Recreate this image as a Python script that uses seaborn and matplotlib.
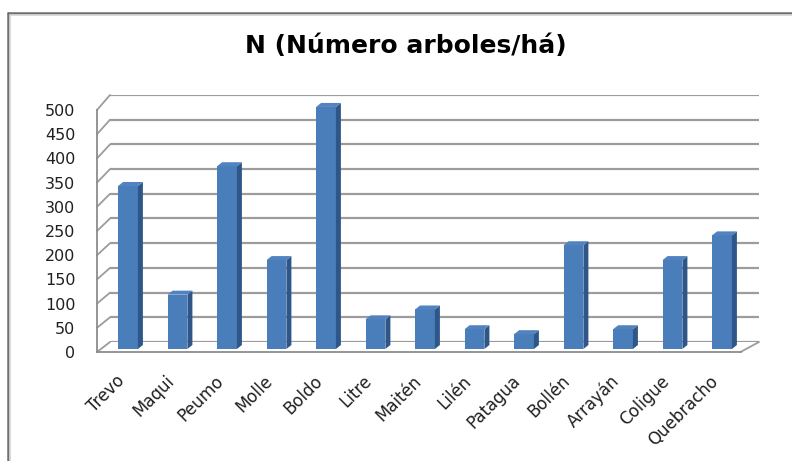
import matplotlib
matplotlib.use("Agg")
import matplotlib.pyplot as plt
from matplotlib.patches import Polygon, ConnectionPatch
from matplotlib.lines import Line2D
import seaborn as sns

# Data: trees per hectare by species
species = ["Trevo", "Maqui", "Peumo", "Molle", "Boldo", "Litre", "Maitén",
           "Lilén", "Patagua", "Bollén", "Arrayán", "Coligue", "Quebracho"]
trees_per_ha = [330, 110, 370, 180, 490, 60, 80, 40, 30, 210, 40, 180, 230]
y_ticks = list(range(0, 501, 50))

title = "N (Número arboles/há)"

FRONT = "#4A7EBB"
SIDE = "#2E5688"
TOP = "#5283C0"
GRID = "#9C9C9C"
AXIS = "#8C8C8C"
TEXT = "#202020"

sns.set_style("white")
plt.rcParams["font.family"] = ["DejaVu Sans"]

W, H = 792, 461
fig = plt.figure(figsize=(W / 100, H / 100), dpi=100)


def rect(left, right, bottom, top):
    """Axes rectangle from pixel edges (top/bottom measured from the top)."""
    return [left / W, (H - bottom) / H, (right - left) / W, (bottom - top) / H]


# Back wall (gridlines), bar plane, and front plane (axes / labels)
ax_back = fig.add_axes(rect(110, 759, 342, 95), zorder=0)
ax = fig.add_axes(rect(103.25, 746.75, 349, 102), zorder=1)
ax_front = fig.add_axes(rect(97, 740.5, 352, 110), zorder=2)

for a in (ax_back, ax, ax_front):
    a.set_xlim(-0.5, len(species) - 0.5)
    a.set_ylim(0, 500)
    a.patch.set_visible(False)

# Back wall gridlines
ax_back.axis("off")
for v in y_ticks:
    ax_back.axhline(v, color=GRID, lw=1.6, zorder=0)

# Bars (front faces)
sns.barplot(x=species, y=trees_per_ha, ax=ax, color=FRONT, width=0.4,
            saturation=1, edgecolor="none")
ax.set_xlim(-0.5, len(species) - 0.5)
ax.set_ylim(0, 500)
ax.axis("off")

# Depth faces for each bar (offset measured in pixels, converted to data units)
px_x = (len(species)) / 643.5
px_y = 500 / 247
ddx, ddy = 5 * px_x, 4 * px_y
for bar in list(ax.patches):
    x0 = bar.get_x()
    x1 = x0 + bar.get_width()
    h = bar.get_height()
    side = Polygon([(x1, 0), (x1 + ddx, ddy), (x1 + ddx, h + ddy), (x1, h)],
                   closed=True, facecolor=SIDE, edgecolor="none", clip_on=False)
    top = Polygon([(x0, h), (x0 + ddx, h + ddy), (x1 + ddx, h + ddy), (x1, h)],
                  closed=True, facecolor=TOP, edgecolor="none", clip_on=False)
    ax.add_patch(side)
    ax.add_patch(top)

# Front plane: value axis and category axis
for s in ("top", "right"):
    ax_front.spines[s].set_visible(False)
for s in ("left", "bottom"):
    ax_front.spines[s].set_color(AXIS)
    ax_front.spines[s].set_linewidth(1.3)

ax_front.set_yticks(y_ticks)
ax_front.set_yticklabels([str(v) for v in y_ticks])
ax_front.tick_params(axis="y", direction="out", length=3.6, width=1.0,
                     color=AXIS, pad=12, labelsize=11.5, labelcolor=TEXT)

ax_front.set_xticks(range(len(species)))
ax_front.set_xticks([i - 0.5 for i in range(len(species) + 1)], minor=True)
ax_front.set_xticklabels(species, rotation=45, ha="right", va="center",
                         rotation_mode="anchor")
ax_front.tick_params(axis="x", which="major", length=0, pad=19,
                     labelsize=12, labelcolor=TEXT)
ax_front.tick_params(axis="x", which="minor", direction="out", length=3.6,
                     width=1.0, color=AXIS)

# Side-wall diagonals linking the front axis to the back wall
for v in y_ticks:
    con = ConnectionPatch(xyA=(-0.5, v), coordsA=ax_front.transData,
                          xyB=(-0.5, v), coordsB=ax_back.transData,
                          color=GRID, lw=1.3, zorder=0.5)
    fig.add_artist(con)
right_edge = len(species) - 0.5
fig.add_artist(ConnectionPatch(xyA=(right_edge, 0), coordsA=ax_front.transData,
                               xyB=(right_edge, 0), coordsB=ax_back.transData,
                               color=GRID, lw=1.3, zorder=0.5))

# Title
fig.text(406 / W, 1 - 46 / H, title, ha="center", va="center",
         fontsize=18, fontweight="bold", color="black")

# Chart frame (top and left edges)
fig.add_artist(Line2D([8 / W, 1], [1 - 13.5 / H, 1 - 13.5 / H],
                      color="#707070", lw=1.8))
fig.add_artist(Line2D([9.5 / W, 1], [1 - 15.5 / H, 1 - 15.5 / H],
                      color="#D4D4D4", lw=1.2))
fig.add_artist(Line2D([8 / W, 8 / W], [0, 1 - 13.5 / H],
                      color="#707070", lw=1.8))
fig.add_artist(Line2D([10 / W, 10 / W], [0, 1 - 15.5 / H],
                      color="#D4D4D4", lw=1.2))

fig.savefig("out.png", dpi=100, facecolor="white")
